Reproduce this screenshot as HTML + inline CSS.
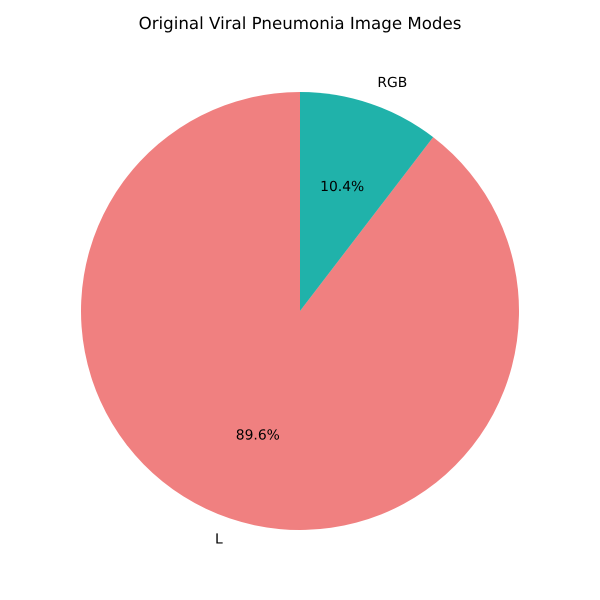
<!DOCTYPE html>
<html>
<head>
<meta charset="utf-8">
<style>
  html, body { margin: 0; padding: 0; background: #ffffff; }
  svg { display: block; }
  text { font-family: "DejaVu Sans", sans-serif; fill: #000000; text-rendering: geometricPrecision; }
</style>
</head>
<body>
<svg id="chart" width="600" height="600" viewBox="0 0 600 600" xmlns="http://www.w3.org/2000/svg">
  <text x="300" y="29" text-anchor="middle" font-size="16.67">Original Viral Pneumonia Image Modes</text>
</svg>
<script>
const categories = ['L', 'RGB'];
const seriesValues = [89.6, 10.4];
const sliceColors = ['#f08080', '#20b2aa'];

const svgNS = 'http://www.w3.org/2000/svg';
const svg = document.getElementById('chart');
const cx = 300;
const cy = 311;
const radius = 219;
const startAngle = 90;
const total = seriesValues.reduce(function (a, b) { return a + b; }, 0);

function px(angle, r) {
  return cx + r * Math.cos(angle * Math.PI / 180);
}
function py(angle, r) {
  return cy - r * Math.sin(angle * Math.PI / 180);
}
function addText(x, y, anchor, content) {
  const t = document.createElementNS(svgNS, 'text');
  t.setAttribute('x', x);
  t.setAttribute('y', y + 4.3);
  t.setAttribute('text-anchor', anchor);
  t.setAttribute('font-size', '13.89');
  t.textContent = content;
  svg.appendChild(t);
  return t;
}

let angle = startAngle;
const labelJobs = [];
categories.forEach(function (cat, i) {
  const sweep = seriesValues[i] / total * 360;
  const end = angle + sweep;
  const largeArc = sweep > 180 ? 1 : 0;
  const path = document.createElementNS(svgNS, 'path');
  path.setAttribute('d',
    'M' + cx + ' ' + cy +
    ' L' + px(angle, radius) + ' ' + py(angle, radius) +
    ' A' + radius + ' ' + radius + ' 0 ' + largeArc + ' 0 ' + px(end, radius) + ' ' + py(end, radius) + ' Z');
  path.setAttribute('fill', sliceColors[i]);
  
  
  svg.appendChild(path);
  labelJobs.push({ cat: cat, mid: angle + sweep / 2, value: seriesValues[i] });
  angle = end;
});

labelJobs.forEach(function (job) {
  const anchor = Math.cos(job.mid * Math.PI / 180) >= 0 ? 'start' : 'end';
  const label = addText(px(job.mid, radius * 1.1), py(job.mid, radius * 1.1), anchor, job.cat);
  
  
  const pct = addText(px(job.mid, radius * 0.6), py(job.mid, radius * 0.6), 'middle', (job.value / total * 100).toFixed(1) + '%');
  
  
});
</script>
</body>
</html>
